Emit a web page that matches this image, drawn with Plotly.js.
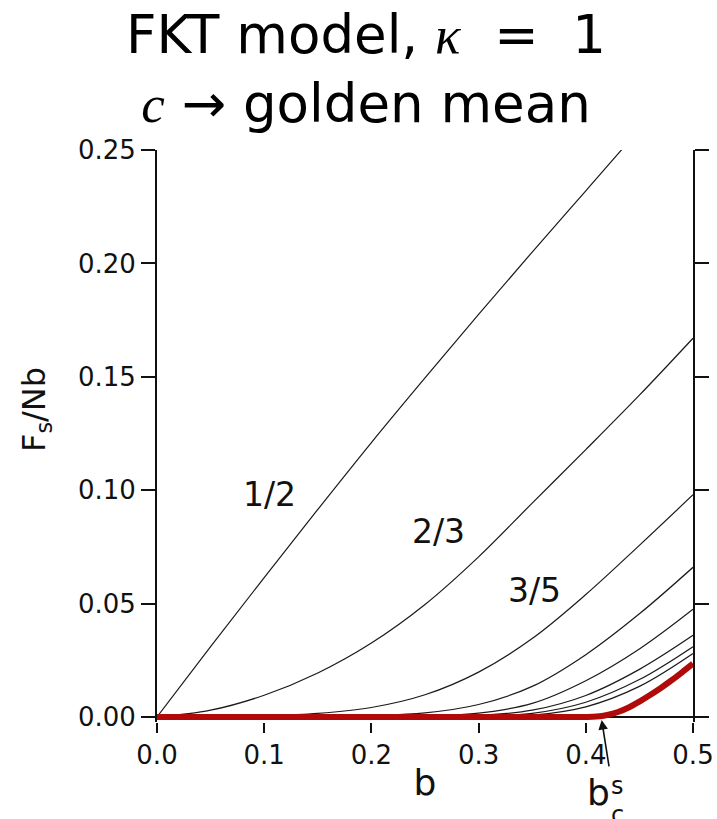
<!DOCTYPE html>
<html>
<head>
<meta charset="utf-8">
<script src="https://cdn.plot.ly/plotly-3.0.1.min.js"></script>
<style>html,body{margin:0;padding:0;background:#fff;}#chart{width:717px;height:819px;}</style>
</head>
<body>
<div id="chart"></div>
<script>
// b values (shared grid for the Fibonacci approximants)
const b = [0, 0.05, 0.1, 0.15, 0.2, 0.25, 0.3, 0.35, 0.4, 0.45, 0.5];
const F_1_2   = [0, 0.031, 0.0615, 0.0915, 0.121, 0.1495, 0.1775, 0.205, 0.232, 0.259, 0.285];
const F_2_3   = [0, 0.003, 0.0096, 0.0194, 0.0326, 0.0496, 0.0706, 0.0943, 0.1179, 0.1419, 0.167];
const F_3_5   = [0, 0.0001, 0.0005, 0.0016, 0.0042, 0.0098, 0.0198, 0.0346, 0.054, 0.0757, 0.098];
const F_5_8   = [0, 0, 0.0001, 0.0002, 0.0006, 0.0018, 0.0055, 0.0135, 0.0275, 0.0455, 0.066];
const F_8_13  = [0, 0, 0, 0.0001, 0.0002, 0.0005, 0.0017, 0.006, 0.016, 0.030, 0.0475];
const F_13_21 = [0, 0, 0, 0, 0.0001, 0.0002, 0.0007, 0.003, 0.0095, 0.021, 0.036];
const F_21_34 = [0, 0, 0, 0, 0, 0.0001, 0.0003, 0.0016, 0.0065, 0.0165, 0.031];
const F_34_55 = [0, 0, 0, 0, 0, 0, 0.0001, 0.0008, 0.0045, 0.0135, 0.028];
// golden-mean limit (red)
const bGolden = [0, 0.1, 0.2, 0.3, 0.38, 0.4, 0.41, 0.42, 0.43, 0.44, 0.45, 0.46, 0.47, 0.48, 0.49, 0.5];
const F_golden = [0, 0, 0, 0, 0, 0, 0.0002, 0.0009, 0.0022, 0.0042, 0.0068, 0.0097, 0.0128, 0.0162, 0.0198, 0.0235];

const approximants = [
  {name: '1/2', y: F_1_2},
  {name: '2/3', y: F_2_3},
  {name: '3/5', y: F_3_5},
  {name: '5/8', y: F_5_8},
  {name: '8/13', y: F_8_13},
  {name: '13/21', y: F_13_21},
  {name: '21/34', y: F_21_34},
  {name: '34/55', y: F_34_55}
];
const curveLabels = ['1/2', '2/3', '3/5'];
const labelX = [0.1054, 0.263, 0.3517];
const labelY = [0.0979, 0.082, 0.056];

const xTicks = [0, 0.1, 0.2, 0.3, 0.4, 0.5];
const xTickText = ['0.0', '0.1', '0.2', '0.3', '0.4', '0.5'];
const yTicks = [0, 0.05, 0.10, 0.15, 0.20, 0.25];
const yTickText = ['0.00', '0.05', '0.10', '0.15', '0.20', '0.25'];

const traces = approximants.map(a => ({
  x: b, y: a.y, name: a.name, type: 'scatter', mode: 'lines',
  line: {color: '#1a1a1a', width: 1.2, shape: 'spline', smoothing: 1},
  showlegend: false
}));
traces.push({
  x: bGolden, y: F_golden, name: 'golden mean', type: 'scatter', mode: 'lines',
  line: {color: '#b00a0a', width: 6, shape: 'spline', smoothing: 1},
  showlegend: false
});

const FONT = 'DejaVu Sans, Arial, sans-serif';
const ann = curveLabels.map((t, i) => ({
  x: labelX[i], y: labelY[i], xref: 'x', yref: 'y', text: t, showarrow: false,
  xanchor: 'center', yanchor: 'middle',
  font: {family: FONT, size: 33, color: '#111'}
}));
// b_c^s arrow
ann.push({
  x: 0.4148, xref: 'x', y: 0.0035, yref: 'paper', text: '', showarrow: true,
  ax: 7.6, ay: 48, arrowhead: 2, arrowsize: 1.2, arrowwidth: 1.6, arrowcolor: '#111'
});
ann.push({x: 0.8246, y: -0.1224, xref: 'paper', yref: 'paper', text: 'b', showarrow: false,
  xanchor: 'center', yanchor: 'middle', font: {family: FONT, size: 36, color: '#111'}});
ann.push({x: 0.860, y: -0.1119, xref: 'paper', yref: 'paper', text: 's', showarrow: false,
  xanchor: 'center', yanchor: 'middle', font: {family: FONT, size: 24, color: '#111'}});
ann.push({x: 0.860, y: -0.1626, xref: 'paper', yref: 'paper', text: 'c', showarrow: false,
  xanchor: 'center', yanchor: 'middle', font: {family: FONT, size: 24, color: '#111'}});
// y-axis title
ann.push({x: -0.2257, y: 0.5455, xref: 'paper', yref: 'paper', text: 'F<sub>s</sub>/Nb',
  xanchor: 'center', yanchor: 'middle',
  textangle: -90, showarrow: false, font: {family: FONT, size: 32, color: '#111'}});

const layout = {
  width: 717, height: 819,
  margin: {l: 157, r: 24, t: 150, b: 97},
  paper_bgcolor: '#fff', plot_bgcolor: '#fff',
  title: {
    text: 'FKT model, <i><span style="font-family:Liberation Serif">κ</span></i>&nbsp; =&nbsp; 1<br><i><span style="font-family:Liberation Serif">c</span></i> → golden mean',
    font: {family: FONT, size: 53, color: '#000'},
    x: 0.5105, xanchor: 'center', y: 0.935, yanchor: 'top'
  },
  xaxis: {
    range: [0, 0.5], tickvals: xTicks, ticktext: xTickText,
    showline: false, ticks: 'outside', ticklen: 10, tickwidth: 2, tickcolor: '#111',
    showgrid: false, zeroline: false,
    tickfont: {family: FONT, size: 26, color: '#111'},
    title: {text: 'b', font: {family: FONT, size: 36, color: '#111'}, standoff: 0}
  },
  xaxis2: {
    overlaying: 'x', matches: 'x', side: 'top', anchor: 'y',
    showline: true, linecolor: '#111', linewidth: 2,
    tickvals: xTicks, ticks: 'outside', ticklen: 10, tickwidth: 2, tickcolor: '#111',
    showticklabels: false, showgrid: false, zeroline: false
  },
  yaxis: {
    range: [-0.0022, 0.25], tickvals: yTicks, ticktext: yTickText,
    showline: true, linecolor: '#111', linewidth: 2, mirror: 'ticks',
    ticks: 'outside', ticklen: 14, tickwidth: 2, tickcolor: '#111',
    showgrid: false, zeroline: true, zerolinecolor: '#111', zerolinewidth: 2,
    tickfont: {family: FONT, size: 26, color: '#111'}
  },
  annotations: ann
};

Plotly.newPlot('chart', traces, layout, {displayModeBar: false, staticPlot: true});
</script>
</body>
</html>
